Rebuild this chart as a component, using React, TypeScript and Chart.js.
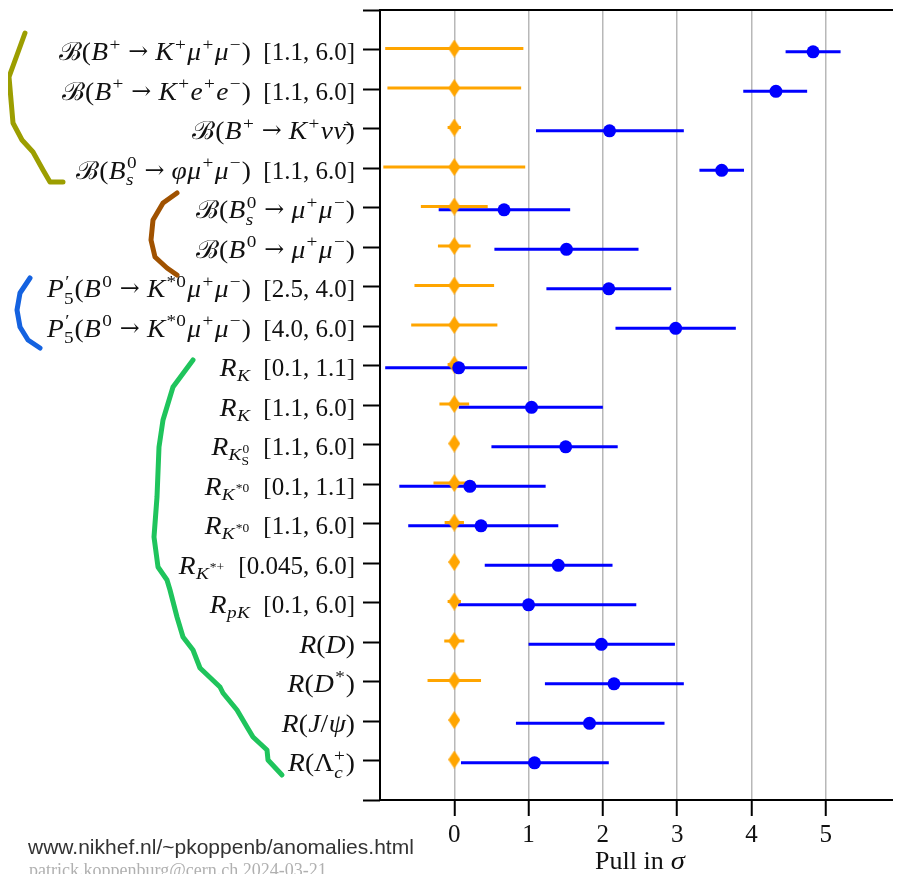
import React, { useEffect, useRef } from "react";
import { Chart, registerables } from "chart.js";

Chart.register(...registerables);

// ---------- data ----------
const ROW_LABELS = [
  "$ℬ(B^+ → K^+μ^+μ^-)$  [1.1, 6.0]",
  "$ℬ(B^+ → K^+e^+e^-)$  [1.1, 6.0]",
  "$ℬ(B^+ → K^+νν\u0304)$",
  "$ℬ(B^0_s → φμ^+μ^-)$  [1.1, 6.0]",
  "$ℬ(B^0_s → μ^+μ^-)$",
  "$ℬ(B^0 → μ^+μ^-)$",
  "$P^{′}_5(B^0 → K^{*0}μ^+μ^-)$  [2.5, 4.0]",
  "$P^{′}_5(B^0 → K^{*0}μ^+μ^-)$  [4.0, 6.0]",
  "$R_K$  [0.1, 1.1]",
  "$R_K$  [1.1, 6.0]",
  "$R_{K^0_{\\rm{S}}}$  [1.1, 6.0]",
  "$R_{K^{*0}}$  [0.1, 1.1]",
  "$R_{K^{*0}}$  [1.1, 6.0]",
  "$R_{K^{*+}}$  [0.045, 6.0]",
  "$R_{pK}$  [0.1, 6.0]",
  "$R(D)$",
  "$R(D^*)$",
  "$R(J/ψ)$",
  "$R(Λ^+_c)$",
];

// Standard-model expectation (orange): centre and half-width of uncertainty
const SM_CENTER = [0, 0, 0, 0, 0, 0, 0, 0, 0, 0, 0, 0, 0, 0, 0, 0, 0, 0, 0];
const SM_ERR = [0.93, 0.9, 0.09, 0.955, 0.45, 0.22, 0.536, 0.58, 0.09, 0.2, 0.04, 0.28, 0.13, 0.04, 0.09, 0.135, 0.36, 0.04, 0.04];

// Measurement pull (blue): central value, lower and upper ends
const OBS_CENTER = [4.83, 4.33, 2.09, 3.6, 0.67, 1.51, 2.08, 2.98, 0.06, 1.04, 1.5, 0.21, 0.36, 1.4, 1.0, 1.98, 2.15, 1.82, 1.08];
const OBS_LOW = [4.46, 3.89, 1.1, 3.3, -0.21, 0.54, 1.24, 2.17, -0.93, 0.06, 0.5, -0.74, -0.62, 0.41, 0.05, 1.0, 1.22, 0.83, 0.09];
const OBS_HIGH = [5.2, 4.75, 3.09, 3.9, 1.56, 2.48, 2.92, 3.79, 0.98, 2.0, 2.2, 1.23, 1.4, 2.13, 2.45, 2.97, 3.09, 2.83, 2.08];

const X_TICKS = [0, 1, 2, 3, 4, 5, 6];
const X_TITLE = "Pull in $σ$";
const FOOTER_URL = "www.nikhef.nl/~pkoppenb/anomalies.html";
const FOOTER_SIGN = "patrick.koppenburg@cern.ch 2024-03-21";

// ---------- styling ----------
const W = 893;
const H = 866;
const ORANGE = "#FFA500";
const BLUE = "#0000FF";
const SM_DY = -0.025;
const OBS_DY = 0.06;
const FONT = '"Liberation Serif", "DejaVu Serif", serif';
const ARROW_FONT = '"DejaVu Serif", "DejaVu Sans", serif';
const FS = 25;
const MATH_STRETCH = 1.1;

// hand-drawn grouping strokes (page annotations, not data)
const STROKES: { color: string; pts: number[][] }[] = [
  { color: "#9c9e00", pts: [[25, 33], [17, 55], [9, 77], [11, 100], [13, 123], [22, 140], [33, 152], [43, 170], [50, 182], [63, 182]] },
  { color: "#a05200", pts: [[177, 193], [163, 203], [153, 220], [151, 240], [155, 257], [167, 268], [177, 275]] },
  { color: "#1462e0", pts: [[30, 278], [20, 293], [17, 310], [20, 327], [28, 340], [40, 348]] },
  { color: "#1fc45c", pts: [[193, 360], [173, 387], [163, 420], [159, 447], [157, 497], [154, 537], [158, 567], [167, 580], [170, 590], [177, 617], [183, 637], [193, 650], [200, 668], [220, 687], [223, 693], [237, 710], [247, 727], [253, 737], [267, 750], [268, 760], [282, 775]] },
];

// ---------- mini rich-text (TeX-like) renderer ----------
type CharItem = { t: "c"; s: string; it: boolean; m: boolean };
type Item = CharItem | { t: "s"; sup: Item[] | null; sub: Item[] | null };

function parseRich(src: string): Item[] {
  let i = 0;
  const isLetter = (c: string) => /[A-Za-zα-ω]/.test(c);
  function charItem(c: string, math: boolean, rm: boolean): CharItem {
    let s = c;
    if (math && s === "-") s = "\u2212";
    return { t: "c", s, it: math && !rm && isLetter(c), m: math };
  }
  function parseArg(math: boolean, rm: boolean): Item[] {
    if (src[i] === "{") {
      i++;
      return parseSeq(math, true, rm);
    }
    if (src.startsWith("\\rm{", i)) {
      i += 4;
      return parseSeq(math, true, true);
    }
    const c = src[i];
    i++;
    return [charItem(c, math, rm)];
  }
  function parseSeq(math: boolean, stop: boolean, rm: boolean): Item[] {
    const out: Item[] = [];
    while (i < src.length) {
      const c = src[i];
      if (c === "}" && stop) {
        i++;
        return out;
      }
      if (c === "$") {
        math = !math;
        i++;
        continue;
      }
      if (src.startsWith("\\rm{", i)) {
        i += 4;
        out.push(...parseSeq(math, true, true));
        continue;
      }
      if (c === "{") {
        i++;
        out.push(...parseSeq(math, true, rm));
        continue;
      }
      if (math && (c === "^" || c === "_")) {
        let sup: Item[] | null = null;
        let sub: Item[] | null = null;
        while (i < src.length && (src[i] === "^" || src[i] === "_")) {
          const k = src[i];
          i++;
          const arg = parseArg(math, rm);
          if (k === "^") sup = arg;
          else sub = arg;
        }
        out.push({ t: "s", sup, sub });
        continue;
      }
      i++;
      const item = charItem(c, math, rm);
      while (i < src.length && /[\u0300-\u036f]/.test(src[i])) {
        item.s += src[i];
        i++;
      }
      out.push(item);
    }
    return out;
  }
  return parseSeq(false, false, false);
}

function renderItems(ctx: CanvasRenderingContext2D, items: Item[], size: number, x: number, y: number, draw: boolean): number {
  let cx = x;
  let lastItalic = false;
  for (const it of items) {
    if (it.t === "c") {
      const isArrow = it.s === "→";
      ctx.font = isArrow ? `${size * 0.95}px ${ARROW_FONT}` : `${it.it ? "italic " : ""}${size}px ${FONT}`;
      const k = it.m && !isArrow ? MATH_STRETCH : 1;
      const w = ctx.measureText(it.s).width * k + (it.it ? size * 0.02 : 0);
      if (draw) {
        ctx.save();
        ctx.translate(cx + (it.it ? size * 0.015 : 0), isArrow ? y - size * 0.03 : y);
        ctx.scale(k, 1);
        ctx.fillText(it.s, 0, 0);
        ctx.restore();
      }
      cx += w;
      lastItalic = it.it;
    } else {
      const ss = size * 0.7;
      const kern = lastItalic ? size * 0.05 : 0;
      let w1 = 0;
      let w2 = 0;
      if (it.sup) w1 = kern + renderItems(ctx, it.sup, ss, cx + kern, y - size * 0.42, draw);
      if (it.sub) w2 = renderItems(ctx, it.sub, ss, cx, y + size * (it.sup ? 0.27 : 0.2), draw);
      cx += Math.max(w1, w2) + size * 0.04;
      lastItalic = false;
    }
  }
  return cx - x;
}

function drawRich(ctx: CanvasRenderingContext2D, src: string, x: number, y: number, align: "left" | "right" | "center", size = FS) {
  const items = parseRich(src);
  ctx.textAlign = "left";
  ctx.textBaseline = "alphabetic";
  const w = renderItems(ctx, items, size, 0, 0, false);
  let sx = x;
  if (align === "right") sx = x - w;
  else if (align === "center") sx = x - w / 2;
  renderItems(ctx, items, size, sx, y, true);
}

function makeDiamond(): HTMLCanvasElement {
  const c = document.createElement("canvas");
  c.width = 12;
  c.height = 18;
  const g = c.getContext("2d")!;
  g.fillStyle = ORANGE;
  g.beginPath();
  g.moveTo(6, 0);
  g.lineTo(12, 9);
  g.lineTo(6, 18);
  g.lineTo(0, 9);
  g.closePath();
  g.fill();
  return c;
}

function errorSegments(lo: number[], hi: number[], dy: number) {
  const pts: { x: number; y: number }[] = [];
  lo.forEach((l, i) => {
    pts.push({ x: l, y: i + dy });
    pts.push({ x: hi[i], y: i + dy });
    pts.push({ x: NaN, y: NaN });
  });
  return pts;
}

const decorPlugin = {
  id: "decor",
  afterDraw(chart: any) {
    const { ctx, chartArea, scales } = chart;
    const xs = scales.x;
    const ys = scales.y;
    ctx.save();
    // frame
    ctx.strokeStyle = "#000";
    ctx.lineWidth = 2;
    ctx.strokeRect(chartArea.left, chartArea.top, chartArea.right - chartArea.left, chartArea.bottom - chartArea.top);
    // y labels
    ctx.fillStyle = "#111";
    ROW_LABELS.forEach((lab, i) => {
      drawRich(ctx, lab, chartArea.left - 25, ys.getPixelForValue(i) + 10.5, "right");
    });
    // x tick labels
    X_TICKS.forEach((v) => {
      drawRich(ctx, String(v), xs.getPixelForValue(v), chartArea.bottom + 42, "center");
    });
    // x title
    drawRich(ctx, X_TITLE, (chartArea.left + chartArea.right) / 2, chartArea.bottom + 69, "center", 26);
    // footer
    ctx.textAlign = "left";
    ctx.textBaseline = "alphabetic";
    ctx.fillStyle = "#333";
    ctx.font = '21px "Liberation Sans", Arial, sans-serif';
    ctx.fillText(FOOTER_URL, 20, 846);
    ctx.fillStyle = "#b0b0b0";
    ctx.font = `18px ${FONT}`;
    ctx.fillText(FOOTER_SIGN, 21, 868);
    // strokes
    ctx.lineWidth = 5;
    ctx.lineJoin = "round";
    ctx.lineCap = "round";
    STROKES.forEach((s) => {
      ctx.strokeStyle = s.color;
      ctx.beginPath();
      s.pts.forEach(([px, py], k) => {
        if (k === 0) ctx.moveTo(px - 8, py - 8);
        else ctx.lineTo(px - 8, py - 8);
      });
      ctx.stroke();
    });
    ctx.restore();
  },
};

export default function App() {
  const ref = useRef<HTMLCanvasElement>(null);
  useEffect(() => {
    document.documentElement.style.overflow = "hidden";
    document.body.style.overflow = "hidden";
    const diamond = makeDiamond();
    const rows = ROW_LABELS.map((_, i) => i);
    const chart = new Chart(ref.current!, {
      type: "scatter",
      data: {
        datasets: [
          {
            label: "Measurement",
            data: OBS_CENTER.map((v, i) => ({ x: v, y: i + OBS_DY })),
            pointRadius: 6.5,
            pointBackgroundColor: BLUE,
            pointBorderWidth: 0,
            showLine: false,
          },
          {
            label: "SM",
            data: SM_CENTER.map((v, i) => ({ x: v, y: i + SM_DY })),
            pointStyle: diamond as any,
            pointRadius: 6,
            showLine: false,
          },
          {
            label: "Measurement error",
            data: errorSegments(OBS_LOW, OBS_HIGH, OBS_DY),
            showLine: true,
            borderColor: BLUE,
            borderWidth: 3,
            pointRadius: 0,
            spanGaps: false,
          },
          {
            label: "SM error",
            data: errorSegments(
              SM_CENTER.map((c, i) => c - SM_ERR[i]),
              SM_CENTER.map((c, i) => c + SM_ERR[i]),
              SM_DY
            ),
            showLine: true,
            borderColor: ORANGE,
            borderWidth: 3,
            pointRadius: 0,
            spanGaps: false,
          },
        ],
      },
      options: {
        animation: false,
        responsive: false,
        layout: { autoPadding: false, padding: { top: 2, right: 1, left: 0, bottom: 0 } },
        plugins: { legend: { display: false }, tooltip: { enabled: false } },
        scales: {
          x: {
            type: "linear",
            min: -1,
            max: 6,
            afterBuildTicks: (s: any) => {
              s.ticks = X_TICKS.map((v) => ({ value: v }));
            },
            afterFit: (s: any) => {
              s.height = 74;
            },
            ticks: { display: false },
            border: { display: false },
            grid: {
              color: (c: any) => (c.tick && c.tick.value >= 0 && c.tick.value <= 5 ? "#b8b8b8" : "rgba(0,0,0,0)"),
              lineWidth: 1.5,
              drawTicks: true,
              tickLength: 16,
              tickColor: "#000",
              tickWidth: 2,
            },
          },
          y: {
            type: "linear",
            min: -1,
            max: 19,
            reverse: true,
            afterBuildTicks: (s: any) => {
              s.ticks = [-1, ...rows, 19].map((v) => ({ value: v }));
            },
            afterFit: (s: any) => {
              s.width = 372;
            },
            ticks: { display: false, stepSize: 1 },
            border: { display: false },
            grid: {
              drawOnChartArea: false,
              drawTicks: true,
              tickLength: 17,
              tickColor: "#000",
              tickWidth: 2,
            },
          },
        },
      },
      plugins: [decorPlugin],
    } as any);
    return () => chart.destroy();
  }, []);
  return (
    <canvas
      ref={ref}
      width={W}
      height={H}
      style={{ display: "block", width: W, height: H }}
    />
  );
}
